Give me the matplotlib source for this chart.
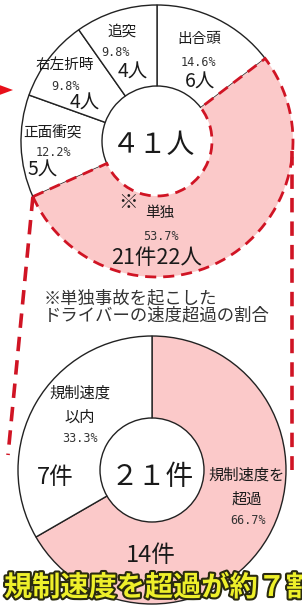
"""
事故類型別の死者数 (ドーナツ) と、単独事故の速度超過の割合
"""
import matplotlib
matplotlib.use('Agg')
import matplotlib.pyplot as plt
import matplotlib.patheffects as pe
from matplotlib.patches import Polygon
import numpy as np

plt.rcParams['font.family'] = ['Noto Sans CJK JP', 'DejaVu Sans']

# 事故類型別 (人)
types = ['出合頭', '単独', '正面衝突', '右左折時', '追突']
persons = [6, 22, 5, 4, 4]
pcts = ['14.6%', '53.7%', '12.2%', '9.8%', '9.8%']
total_label = '４１人'
single_cases = 21

# 単独事故の速度超過 (件)
speed_types = ['規制速度を\n超過', '規制速度\n以内']
speed_cases = [14, 7]
speed_pcts = ['66.7%', '33.3%']
speed_total = '２１件'

note = '※単独事故を起こした\nドライバーの速度超過の割合'
banner = '規制速度を超過が約７割'

W, H = 302, 612
pink = '#fbc9c9'
red = '#d01424'
ink = '#1a1a1a'


def py(y):
    # pixel row -> data y (y up)
    return H - y


fig = plt.figure(figsize=(W / 100, H / 100), dpi=100)
ax = fig.add_axes([0, 0, 1, 1])

# top donut
c1 = (157, py(141))
r1 = 136
wedges1, _ = ax.pie(persons, center=c1, radius=r1, startangle=90, counterclock=False,
                    colors=['white'] * len(persons),
                    wedgeprops=dict(width=r1 - 55, edgecolor='#222222', linewidth=1))
single = wedges1[1]
single.set_facecolor(pink)
single.set_edgecolor(red)
single.set_linestyle((0, (4, 2.5)))
single.set_linewidth(2)
single.set_zorder(3)

# bottom donut
c2 = (152, py(470))
r2 = 134
wedges2, _ = ax.pie(speed_cases, center=c2, radius=r2, startangle=90, counterclock=False,
                    colors=[pink, 'white'],
                    wedgeprops=dict(width=r2 - 52, edgecolor='#222222', linewidth=1))

# dashed connectors from the single-accident wedge to the bottom donut
a = np.deg2rad(single.theta1)
x0, y0 = c1[0] + r1 * np.cos(a), c1[1] + r1 * np.sin(a)
ax.plot([x0, 8], [y0, py(455)], color=red, lw=2.6, ls=(0, (4, 2.5)), zorder=4)
ax.plot([c1[0] + r1 - 1, 292], [c1[1] - 10, py(470)], color=red, lw=2.6, ls=(0, (4, 2.5)), zorder=4)

# red arrow at the left edge
ax.add_patch(Polygon([[-6, py(83)], [13, py(90)], [-6, py(97)]], closed=True,
                     facecolor='#e8101a', edgecolor='none', zorder=5))

pct_font = dict(family='DejaVu Sans Mono', fontsize=8.5, color='#333333')

# labels of the top donut: (name, pct, count) positions in pixels
pos1 = [((199, 39), (198, 62), (200, 82)),
        ((160, 213), (161, 237), (157, 258)),
        ((52, 133), (53, 153), (43, 170)),
        ((65, 65), (65, 87), (85, 103)),
        ((122, 32), (115, 52), (133, 72))]
for i, (name, pct, n) in enumerate(zip(types, pcts, persons)):
    pn, pp, pc = pos1[i]
    ax.text(pn[0], py(pn[1]), name, fontsize=10.5, ha='center', va='center', color=ink, zorder=6)
    ax.text(pp[0], py(pp[1]), pct, ha='center', va='center', zorder=6, **pct_font)
    cnt = f'{single_cases}件{n}人' if name == '単独' else f'{n}人'
    ax.text(pc[0], py(pc[1]), cnt, fontsize=15.5 if name == '単独' else 14,
            ha='center', va='center', color=ink, zorder=6)
ax.text(128, py(202), '※', fontsize=14, ha='center', va='center', color=ink, zorder=6)
ax.text(c1[0] - 4, c1[1] - 4, total_label, fontsize=20, ha='center', va='center', color=ink, zorder=6)

# note
ax.text(44, py(307), note, fontsize=12.5, ha='left', va='center', color='#333333',
        linespacing=1.0, zorder=6)

# labels of the bottom donut
pos2 = [((247, 487), (248, 520), (151, 555)),
        ((80, 405), (80, 438), (55, 477))]
for i, (name, pct, n) in enumerate(zip(speed_types, speed_pcts, speed_cases)):
    pn, pp, pc = pos2[i]
    ax.text(pn[0], py(pn[1]), name, fontsize=11, ha='center', va='center', color=ink,
            linespacing=1.5, zorder=6)
    ax.text(pp[0], py(pp[1]), pct, ha='center', va='center', zorder=6, **pct_font)
    ax.text(pc[0], py(pc[1]), f'{n}件', fontsize=17, ha='center', va='center', color=ink, zorder=6)
ax.text(c2[0], c2[1] - 7, speed_total, fontsize=20, ha='center', va='center', color=ink, zorder=6)

# banner (runs past the right edge, as in the source image)
ax.text(4, py(588), banner, fontsize=20.3, fontweight='bold', color='#eef02a',
        ha='left', va='center', zorder=7,
        path_effects=[pe.withStroke(linewidth=3, foreground='#2a2a10')])

ax.set_xlim(0, W)
ax.set_ylim(0, H)
ax.set_aspect('equal')
ax.axis('off')

fig.savefig('out.png', dpi=100)
